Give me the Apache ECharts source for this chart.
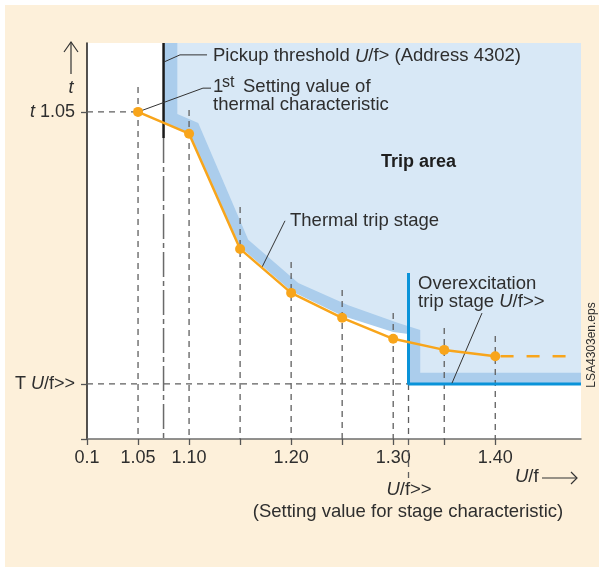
<!DOCTYPE html>
<html><head><meta charset="utf-8">
<script src="https://cdn.jsdelivr.net/npm/echarts@6/dist/echarts.min.js"></script>
<style>
html,body{margin:0;padding:0;background:#fff;}
#panel{position:absolute;left:5px;top:5px;width:594px;height:562px;background:#fdf0da;}
#chart{position:absolute;left:0;top:0;width:603px;height:567px;}
</style></head><body><div id="panel"></div><div id="chart"></div>
<script>
// ---- data (x: U/f, y: tripping time in arbitrary units 0..100) ----
const xTickValues = [1.00, 1.05, 1.10, 1.15, 1.20, 1.25, 1.30, 1.35, 1.40];
const xLabelValues = [1.00, 1.05, 1.10, 1.20, 1.30, 1.40];
const xLabelTexts = ['0.1', '1.05', '1.10', '1.20', '1.30', '1.40'];
const yLabelValues = [82.6, 13.9];
const yLabelTexts = ['{i|t} 1.05', 'T {i|U}/f>>'];

const thermalU = [1.05, 1.10, 1.15, 1.20, 1.25, 1.30, 1.35, 1.40];
const thermalT = [82.6, 77.1, 48.0, 36.9, 30.6, 25.3, 22.5, 20.9];
const guideTopT = [88.9, 83.1, 58.6, 44.7, 37.6, 31.8, 28.0, 26.0];
const extensionU = [1.40, 1.474];
const pickupU = 1.075;
const pickupSolidEndT = 76.0;
const stageU = 1.315;
const stageT = 13.9;
const stageLineTopT = 41.9;
const stageGuideBottomT = -11;
const bandOuterU = [1.075, 1.075, 1.10, 1.15, 1.20, 1.25, 1.30, 1.315, 1.315, 1.484];
const bandOuterT = [100, 79.8, 77.1, 48.5, 37.4, 31.1, 27.0, 26.5, 13.9, 13.9];
const bandInnerU = [1.0885, 1.0885, 1.109, 1.158, 1.207, 1.256, 1.305, 1.3265, 1.3265, 1.484];
const bandInnerT = [100, 82.1, 79.8, 50.3, 39.4, 33.8, 29.3, 27.5, 16.7, 16.7];
const leaderPickup = [[1.0754, 95.2], [1.0911, 97.0], [1.1176, 97.0]];
const leaderSetting = [[1.05, 82.6], [1.1136, 88.6], [1.1215, 88.6]];
const leaderThermal = [[1.1715, 43.4], [1.194, 55.1]];
const leaderStage = [[1.3576, 14.1], [1.387, 31.8]];

const zip = (a, b) => a.map((v, i) => [v, b[i]]);
const FONT = '"Liberation Sans", Arial, sans-serif';
const TXT = '#2e2e2e';
const ORANGE = '#f8a51b';
const FS = 18.5;

function segSeries(segs, style, z) {
  return {
    type: 'custom', z: z, silent: true, clip: false,
    data: segs,
    encode: { x: [0, 2], y: [1, 3] },
    renderItem: function (params, api) {
      const p1 = api.coord([api.value(0), api.value(1)]);
      const p2 = api.coord([api.value(2), api.value(3)]);
      return { type: 'line', shape: { x1: p1[0], y1: p1[1], x2: p2[0], y2: p2[1] },
        style: Object.assign({ fill: null }, style) };
    }
  };
}
function lineSeries(data, color, width, z, type, extra) {
  return Object.assign({
    type: 'line', data: data, z: z, silent: true, symbol: 'none',
    lineStyle: { color: color, width: width, type: type || 'solid' }
  }, extra || {});
}

const guideSegs = thermalU.map((u, i) => [u, guideTopT[i], u, 0]);
guideSegs.push([1.0, thermalT[0], thermalU[0], thermalT[0]]);
guideSegs.push([1.0, stageT, stageU, stageT]);
guideSegs.push([stageU, stageT, stageU, stageGuideBottomT]);

function txt(x, y, text, opts) {
  return Object.assign({
    type: 'text', x: x, y: y, z: 100, silent: true,
    style: Object.assign({ text: text, fill: TXT, fontSize: FS, fontFamily: FONT,
      align: 'left', verticalAlign: 'middle',
      rich: { i: { fontStyle: 'italic', fontSize: (opts && opts.fs) || FS, fontFamily: FONT, fill: TXT } } },
      (opts && opts.style) || {})
  }, (opts && opts.el) || {});
}

const chart = echarts.init(document.getElementById('chart'));
chart.setOption({
  backgroundColor: 'transparent',
  animation: false,
  grid: { left: 87, top: 43, width: 494, height: 396, show: true, backgroundColor: '#fff', borderWidth: 0 },
  xAxis: {
    type: 'value', min: 1.0, max: 1.484,
    axisLine: { show: true, onZero: false, lineStyle: { color: '#6d6d6d', width: 1.5 } },
    axisTick: { show: true, customValues: xTickValues, length: 6, lineStyle: { color: '#555', width: 1.3 } },
    axisLabel: {
      customValues: xLabelValues, margin: 10, fontSize: 18, color: TXT, fontFamily: FONT,
      formatter: function (v) {
        for (let i = 0; i < xLabelValues.length; i++) if (Math.abs(v - xLabelValues[i]) < 1e-6) return xLabelTexts[i];
        return '';
      }
    },
    splitLine: { show: false }
  },
  yAxis: {
    type: 'value', min: 0, max: 100,
    axisLine: { show: true, onZero: false, lineStyle: { color: '#1a1a1a', width: 1.5 } },
    axisTick: { show: true, customValues: [0].concat(yLabelValues), length: 6, lineStyle: { color: '#555', width: 1.3 } },
    axisLabel: {
      customValues: yLabelValues, margin: 12, fontSize: 18, color: TXT, fontFamily: FONT,
      rich: { i: { fontStyle: 'italic', fontSize: 18, fontFamily: FONT, color: TXT } },
      formatter: function (v) {
        for (let i = 0; i < yLabelValues.length; i++) if (Math.abs(v - yLabelValues[i]) < 1e-6) return yLabelTexts[i];
        return '';
      }
    },
    splitLine: { show: false }
  },
  series: [
    lineSeries(zip(bandOuterU, bandOuterT), '#abcdec', 0, 1, 'solid', { areaStyle: { color: '#abcdec', origin: 'end', opacity: 1 } }),
    lineSeries(zip(bandInnerU, bandInnerT), '#d8e8f6', 0, 2, 'solid', { areaStyle: { color: '#d8e8f6', origin: 'end', opacity: 1 } }),
    segSeries(guideSegs, { stroke: '#5f5f5f', lineWidth: 1.3, lineDash: [6, 5] }, 3),
    segSeries([[pickupU, pickupSolidEndT, pickupU, 0]], { stroke: '#6a6a6a', lineWidth: 1.5, lineDash: [25, 4, 5, 4] }, 3),
    segSeries([[pickupU, 100, pickupU, pickupSolidEndT]], { stroke: '#1a1a1a', lineWidth: 2.5 }, 4),
    lineSeries([[stageU, stageLineTopT], [stageU, stageT], [1.484, stageT]], '#0a93d9', 3, 4),
    lineSeries(leaderPickup, '#333', 1, 5),
    lineSeries(leaderSetting, '#333', 1, 5),
    lineSeries(leaderThermal, '#333', 1, 5),
    lineSeries(leaderStage, '#333', 1, 5),
    lineSeries(zip(extensionU, [thermalT[7], thermalT[7]]), ORANGE, 2.5, 5, [13, 13], {
      lineStyle: { color: ORANGE, width: 2.5, type: [13, 13], dashOffset: 20.7 } }),
    {
      type: 'line', data: zip(thermalU, thermalT), z: 6, silent: true,
      symbol: 'circle', symbolSize: 10, showAllSymbol: true,
      itemStyle: { color: ORANGE, borderWidth: 0 },
      lineStyle: { color: ORANGE, width: 2.5 }
    }
  ],
  graphic: {
    z: 100,
    elements: [
      // y axis name with arrow
      txt(71, 88, 't', { fs: 18, style: { fontStyle: 'italic', align: 'center', fontSize: 18 } }),
      { type: 'polyline', silent: true, shape: { points: [[71, 74], [71, 42]] }, style: { stroke: '#333', lineWidth: 1.2, fill: null } },
      { type: 'polyline', silent: true, shape: { points: [[64, 52], [71, 42], [78, 52]] }, style: { stroke: '#333', lineWidth: 1.2, fill: null } },
      // x axis name with arrow
      txt(515, 477, '{i|U}/f'),
      { type: 'polyline', silent: true, shape: { points: [[542, 478], [577, 478]] }, style: { stroke: '#333', lineWidth: 1.2, fill: null } },
      { type: 'polyline', silent: true, shape: { points: [[571, 472], [577, 478], [571, 484]] }, style: { stroke: '#333', lineWidth: 1.2, fill: null } },
      txt(409, 490, '{i|U}/f>>', { style: { align: 'center' } }),
      txt(408, 512, '(Setting value for stage characteristic)', { style: { align: 'center' } }),
      txt(592, 345, 'LSA4303en.eps', { fs: 12, style: { align: 'center', fontSize: 12 }, el: { rotation: Math.PI / 2 } }),
      // annotations in plot
      txt(213, 56.4, 'Pickup threshold {i|U}/f> (Address 4302)'),
      txt(213, 86.7, '1'),
      txt(222, 83, 'st', { style: { fontSize: 16 } }),
      txt(243, 86.7, 'Setting value of'),
      txt(213, 105.4, 'thermal characteristic'),
      txt(418.5, 161.7, 'Trip area', { style: { fontWeight: 'bold', align: 'center', fill: '#1e1e1e', fontSize: 18 } }),
      txt(290, 220.7, 'Thermal trip stage'),
      txt(418, 283.7, 'Overexcitation'),
      txt(418, 302, 'trip stage {i|U}/f>>')
    ]
  }
});
</script></body></html>
